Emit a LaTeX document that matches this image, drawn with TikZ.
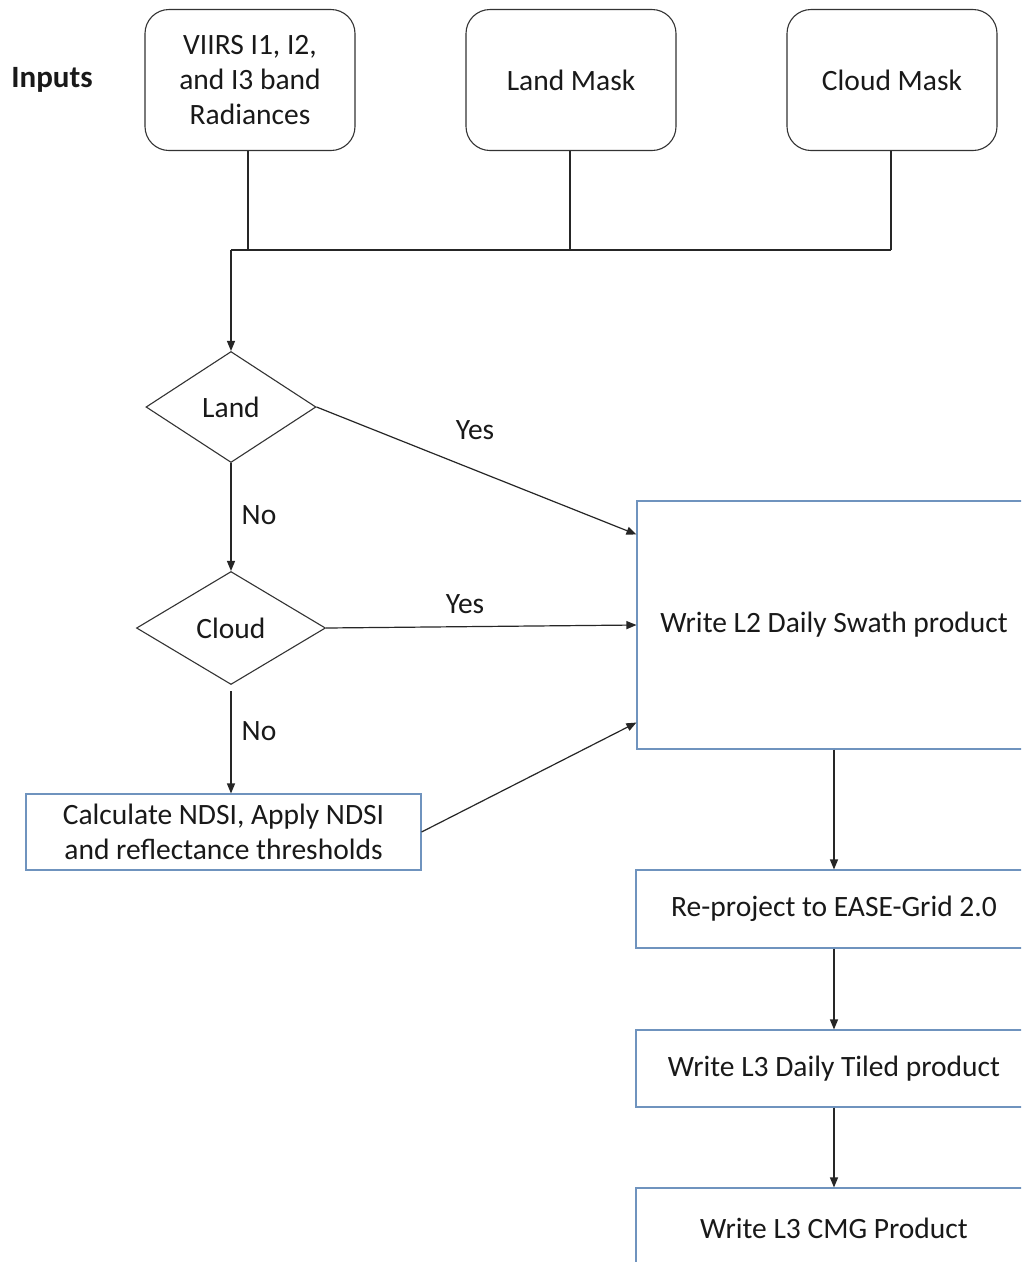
\documentclass[tikz,border=0pt]{standalone}
\usepackage{fontspec}
\setmainfont{Carlito}
\usetikzlibrary{shapes.geometric,arrows.meta,calc}
\definecolor{boxblue}{HTML}{6F93BE}
\begin{document}
\begin{tikzpicture}[x=1pt,y=-1pt,
  every node/.style={font=\fontsize{29.5}{35}\selectfont, text=black!90},
  inbox/.style={draw=black!80, line width=1.1pt, rounded corners=24pt, minimum width=210pt, minimum height=141pt, align=center},
  dec/.style={diamond, draw=black!80, line width=1.1pt, inner sep=0pt, align=center},
  procbox/.style={draw=boxblue, line width=1.1pt, align=center},
  conn/.style={draw=black!85, line width=1.2pt},
  arr/.style={conn, -{Triangle[length=10pt,width=8pt]}},
  lbl/.style={inner sep=0pt}
]
\useasboundingbox (0,0) rectangle (1021,1262);
\clip (0,0) rectangle (1021,1262);
\fill[white] (0,0) rectangle (1021,1262);

\node[font=\fontsize{31}{35}\selectfont\bfseries] (inputs) at (52,80) {Inputs};
\node[inbox] (viirs) at (250,80) {VIIRS I1, I2,\\and I3 band\\Radiances};
\node[inbox] (landmask) at (571,80) {Land Mask};
\node[inbox] (cloudmask) at (892,80) {Cloud Mask};

\node[dec, minimum width=170pt, minimum height=111pt] (land) at (231,407) {Land};
\node[dec, minimum width=189pt, minimum height=113pt] (cloud) at (231,628) {Cloud};

\node[procbox, minimum width=395pt, minimum height=76pt] (calc) at (223.5,832) {Calculate NDSI, Apply NDSI\\and reflectance thresholds};

\node[procbox, minimum width=394pt, minimum height=248pt] (l2) at (834,625) {Write L2 Daily Swath product};
\node[procbox, minimum width=396pt, minimum height=78pt] (reproj) at (834,909) {Re-project to EASE-Grid 2.0};
\node[procbox, minimum width=396pt, minimum height=77pt] (l3t) at (834,1068.5) {Write L3 Daily Tiled product};
\node[procbox, minimum width=396pt, minimum height=80pt] (cmg) at (834,1228) {Write L3 CMG Product};

% merge lines
\coordinate (jv) at (248,250);
\coordinate (jl) at (570,250);
\coordinate (jc) at (891,250);
\coordinate (jleft) at (231,250);
\draw[conn] (viirs.south -| jv) -- (jv);
\draw[conn] (landmask.south -| jl) -- (jl);
\draw[conn] (cloudmask.south -| jc) -- (jc);
\draw[conn] (jleft) -- (jc);
\draw[arr] (jleft) -- (land.north);

% decisions
\draw[arr] (land.east) -- ([yshift=-34pt]l2.north west);
\node[lbl] (yes1) at (475,430) {Yes};
\draw[arr] (land.south) -- (cloud.north);
\node[lbl] (no1) at (259,515) {No};
\draw[arr] (cloud.east) -- (l2.west);
\node[lbl] (yes2) at (465,604) {Yes};
\draw[arr] ([yshift=-6pt]cloud.south) -- (calc.north -| cloud.south);
\node[lbl] (no2) at (259,731) {No};
\draw[arr] (calc.east) -- ([yshift=27pt]l2.south west);

% chain
\draw[arr] (l2.south) -- (reproj.north);
\draw[arr] (reproj.south) -- (l3t.north);
\draw[arr] (l3t.south) -- (cmg.north);
\end{tikzpicture}
\end{document}
